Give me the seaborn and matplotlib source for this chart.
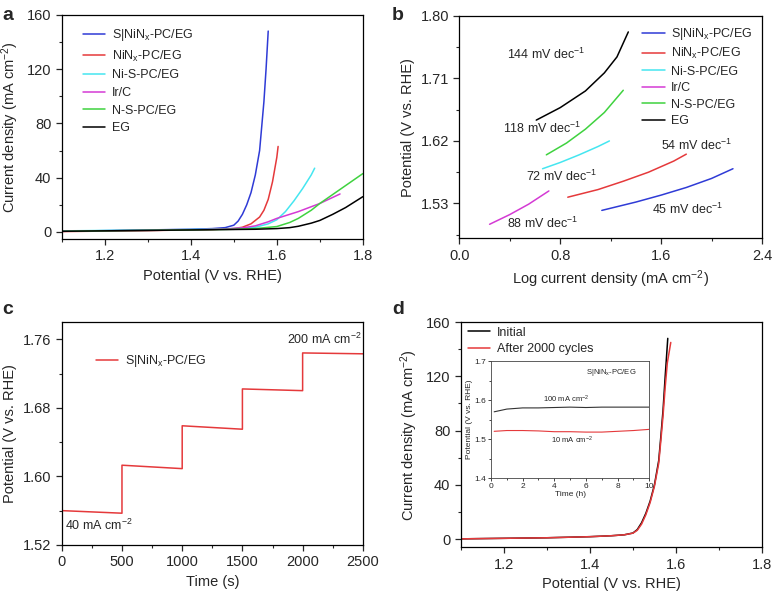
import numpy as np
import pandas as pd
import matplotlib
matplotlib.use("Agg")
import matplotlib.pyplot as plt
from matplotlib.ticker import MultipleLocator
import seaborn as sns

# ---- Panel a: LSV curves
lsv_names = ["S|NiN$_x$-PC/EG", "NiN$_x$-PC/EG", "Ni-S-PC/EG", "Ir/C", "N-S-PC/EG", "EG"]
lsv_colors = ["#2f3bd6", "#e5393b", "#45e6f0", "#d43ad4", "#3fd23f", "#000000"]

sni_v = [1.10, 1.20, 1.30, 1.40, 1.45, 1.48, 1.50, 1.51, 1.52, 1.53, 1.54, 1.55, 1.56, 1.565, 1.57, 1.575, 1.58]
sni_j = [0.5, 1.0, 1.5, 2.0, 2.5, 3.2, 5, 8, 13, 20, 29, 42, 60, 78, 96, 120, 148]
nin_v = [1.10, 1.30, 1.45, 1.50, 1.52, 1.54, 1.56, 1.57, 1.58, 1.59, 1.60, 1.603]
nin_j = [0.3, 1.0, 1.8, 2.5, 3.5, 6, 11, 16, 24, 37, 55, 63]
nis_v = [1.10, 1.40, 1.50, 1.55, 1.58, 1.60, 1.62, 1.64, 1.66, 1.68, 1.688]
nis_j = [0.8, 1.8, 2.5, 3.5, 6, 9, 15, 23, 32, 42, 47]
irc_v = [1.10, 1.40, 1.48, 1.52, 1.55, 1.58, 1.60, 1.65, 1.70, 1.747]
irc_j = [0.5, 1.5, 2.2, 3, 4.5, 7.5, 10, 15, 21, 28]
nsp_v = [1.10, 1.40, 1.50, 1.55, 1.60, 1.63, 1.65, 1.68, 1.70, 1.75, 1.80]
nsp_j = [0.5, 1.5, 2, 2.5, 4, 7, 10, 16, 21, 32, 43]
eg_v = [1.10, 1.40, 1.55, 1.60, 1.63, 1.65, 1.68, 1.70, 1.73, 1.76, 1.80]
eg_j = [0.5, 1.5, 2, 2.5, 3.2, 4.2, 6.5, 8.5, 13, 18, 26]

# ---- Panel b: Tafel plots
sni_logj = [1.13, 1.4, 1.6, 1.8, 2.0, 2.17]
sni_e = [1.520, 1.532, 1.542, 1.553, 1.566, 1.580]
nin_logj = [0.86, 1.1, 1.3, 1.5, 1.7, 1.80]
nin_e = [1.539, 1.550, 1.562, 1.575, 1.591, 1.601]
nis_logj = [0.66, 0.8, 0.95, 1.1, 1.19]
nis_e = [1.580, 1.589, 1.600, 1.612, 1.620]
irc_logj = [0.24, 0.4, 0.55, 0.71]
irc_e = [1.500, 1.514, 1.529, 1.548]
nsp_logj = [0.69, 0.85, 1.0, 1.15, 1.30]
nsp_e = [1.600, 1.617, 1.637, 1.661, 1.693]
eg_logj = [0.61, 0.8, 1.0, 1.15, 1.25, 1.34]
eg_e = [1.650, 1.668, 1.692, 1.718, 1.741, 1.777]
tafel_labels = ["144 mV dec$^{-1}$", "118 mV dec$^{-1}$", "72 mV dec$^{-1}$",
                "88 mV dec$^{-1}$", "54 mV dec$^{-1}$", "45 mV dec$^{-1}$"]
tafel_x = [0.375, 0.35, 0.53, 0.38, 1.60, 1.53]
tafel_y = [1.744, 1.638, 1.569, 1.501, 1.614, 1.522]

# ---- Panel c: multi-step chronopotentiometry
step_time = [0, 500, 500, 1000, 1000, 1500, 1500, 2000, 2000, 2500]
step_pot = [1.560, 1.557, 1.613, 1.609, 1.659, 1.655, 1.702, 1.700, 1.744, 1.743]

# ---- Panel d: stability
init_v = [1.10, 1.20, 1.30, 1.40, 1.45, 1.48, 1.50, 1.51, 1.52, 1.53, 1.54, 1.55, 1.56, 1.565, 1.57, 1.575, 1.581]
init_j = [0.2, 0.6, 1.0, 1.8, 2.5, 3.2, 4.5, 7, 12, 19, 28, 40, 58, 76, 95, 120, 148]
after_v = [1.10, 1.20, 1.30, 1.40, 1.45, 1.48, 1.50, 1.51, 1.52, 1.53, 1.54, 1.55, 1.56, 1.565, 1.57, 1.575, 1.58, 1.588]
after_j = [0.2, 0.6, 1.0, 1.8, 2.5, 3.2, 4.4, 6.5, 11, 18, 27, 39, 56, 73, 91, 112, 130, 145]
inset_t = [0.2, 1, 2, 3, 4, 5, 6, 7, 8, 9, 10]
inset_100 = [1.570, 1.577, 1.580, 1.580, 1.581, 1.582, 1.581, 1.582, 1.582, 1.582, 1.582]
inset_10 = [1.520, 1.522, 1.522, 1.521, 1.519, 1.519, 1.518, 1.518, 1.520, 1.522, 1.525]

sns.set_style("ticks")
plt.rcParams['font.family'] = ['Liberation Sans', 'DejaVu Sans']
plt.rcParams['mathtext.fontset'] = 'custom'
plt.rcParams['mathtext.rm'] = 'Liberation Sans'
plt.rcParams['mathtext.it'] = 'Liberation Sans'
plt.rcParams['mathtext.bf'] = 'Liberation Sans:bold'
plt.rcParams['font.size'] = 10
plt.rcParams['axes.linewidth'] = 0.9
plt.rcParams['xtick.direction'] = 'out'
plt.rcParams['ytick.direction'] = 'out'

fig = plt.figure(figsize=(7.72, 5.91), dpi=100)
ax_a = fig.add_axes([0.080, 0.596, 0.390, 0.379])
ax_b = fig.add_axes([0.595, 0.597, 0.392, 0.376])
ax_c = fig.add_axes([0.080, 0.078, 0.390, 0.377])
ax_d = fig.add_axes([0.597, 0.074, 0.390, 0.381])
ax_in = fig.add_axes([0.636, 0.191, 0.205, 0.198])

LABEL_FS = 10.5
TICK_FS = 10.5
LEG_FS = 9
NOTE_FS = 9


def style_axis(ax, fs=TICK_FS, maj=4, mnr=2.5):
    for s in ax.spines.values():
        s.set_visible(True)
        s.set_color('black')
    ax.tick_params(which='major', length=maj, width=0.9, labelsize=fs, top=False, right=False)
    ax.tick_params(which='minor', length=mnr, width=0.8, top=False, right=False)


def place_legend(ax, x, y, fs=LEG_FS, spacing=0.45, loc='upper left'):
    ax.legend(loc=loc, bbox_to_anchor=(x, y), frameon=False, fontsize=fs,
              handlelength=1.8, handletextpad=0.5, labelspacing=spacing,
              borderaxespad=0, borderpad=0)


# panel a
lsv_v = [sni_v, nin_v, nis_v, irc_v, nsp_v, eg_v]
lsv_j = [sni_j, nin_j, nis_j, irc_j, nsp_j, eg_j]
for v, j, name, c in zip(lsv_v, lsv_j, lsv_names, lsv_colors):
    sns.lineplot(x=v, y=j, ax=ax_a, color=c, label=name, lw=1.1, estimator=None, sort=False)
ax_a.set_xlim(1.1, 1.8)
ax_a.set_ylim(-5, 160)
ax_a.xaxis.set_major_locator(MultipleLocator(0.2))
ax_a.xaxis.set_minor_locator(MultipleLocator(0.1))
ax_a.yaxis.set_major_locator(MultipleLocator(40))
ax_a.yaxis.set_minor_locator(MultipleLocator(20))
ax_a.set_xlabel("Potential (V vs. RHE)", fontsize=LABEL_FS)
ax_a.set_ylabel("Current density (mA cm$^{-2}$)", fontsize=LABEL_FS)
place_legend(ax_a, 0.07, 0.945)
style_axis(ax_a)

# panel b
tafel_x_data = [sni_logj, nin_logj, nis_logj, irc_logj, nsp_logj, eg_logj]
tafel_y_data = [sni_e, nin_e, nis_e, irc_e, nsp_e, eg_e]
for x, y, name, c in zip(tafel_x_data, tafel_y_data, lsv_names, lsv_colors):
    sns.lineplot(x=x, y=y, ax=ax_b, color=c, label=name, lw=1.1, estimator=None, sort=False)
for lbl, tx, ty in zip(tafel_labels, tafel_x, tafel_y):
    ax_b.text(tx, ty, lbl, fontsize=NOTE_FS, ha='left', va='center')
ax_b.set_xlim(0, 2.4)
ax_b.set_ylim(1.48, 1.80)
ax_b.xaxis.set_major_locator(MultipleLocator(0.8))
ax_b.xaxis.set_minor_locator(MultipleLocator(0.4))
ax_b.set_yticks([1.53, 1.62, 1.71, 1.80])
ax_b.set_yticks([1.485, 1.575, 1.665, 1.755], minor=True)
ax_b.set_yticklabels(["1.53", "1.62", "1.71", "1.80"])
ax_b.set_xlabel("Log current density (mA cm$^{-2}$)", fontsize=LABEL_FS)
ax_b.set_ylabel("Potential (V vs. RHE)", fontsize=LABEL_FS)
place_legend(ax_b, 0.604, 0.955, spacing=0.35)
style_axis(ax_b)

# panel c
sns.lineplot(x=step_time, y=step_pot, ax=ax_c, color="#e5393b", label="S|NiN$_x$-PC/EG",
             lw=1.1, estimator=None, sort=False)
ax_c.text(30, 1.543, "40 mA cm$^{-2}$", fontsize=NOTE_FS, ha='left', va='center')
ax_c.text(1870, 1.760, "200 mA cm$^{-2}$", fontsize=NOTE_FS, ha='left', va='center')
ax_c.set_xlim(0, 2500)
ax_c.set_ylim(1.52, 1.78)
ax_c.xaxis.set_major_locator(MultipleLocator(500))
ax_c.xaxis.set_minor_locator(MultipleLocator(250))
ax_c.set_yticks([1.52, 1.60, 1.68, 1.76])
ax_c.yaxis.set_minor_locator(MultipleLocator(0.04))
ax_c.set_xlabel("Time (s)", fontsize=LABEL_FS)
ax_c.set_ylabel("Potential (V vs. RHE)", fontsize=LABEL_FS)
place_legend(ax_c, 0.113, 0.86)
style_axis(ax_c)

# panel d
sns.lineplot(x=init_v, y=init_j, ax=ax_d, color="black", label="Initial", lw=1.1,
             estimator=None, sort=False)
sns.lineplot(x=after_v, y=after_j, ax=ax_d, color="#e5393b", label="After 2000 cycles", lw=1.1,
             estimator=None, sort=False)
ax_d.set_xlim(1.1, 1.8)
ax_d.set_ylim(-6, 160)
ax_d.xaxis.set_major_locator(MultipleLocator(0.2))
ax_d.xaxis.set_minor_locator(MultipleLocator(0.1))
ax_d.yaxis.set_major_locator(MultipleLocator(40))
ax_d.yaxis.set_minor_locator(MultipleLocator(20))
ax_d.set_xlabel("Potential (V vs. RHE)", fontsize=LABEL_FS)
ax_d.set_ylabel("Current density (mA cm$^{-2}$)", fontsize=LABEL_FS)
place_legend(ax_d, 0.023, 0.98, fs=9, spacing=0.35)
style_axis(ax_d)

# inset
sns.lineplot(x=inset_t, y=inset_100, ax=ax_in, color="#333333", lw=0.8, estimator=None, sort=False)
sns.lineplot(x=inset_t, y=inset_10, ax=ax_in, color="#e5393b", lw=0.8, estimator=None, sort=False)
ax_in.text(6.0, 1.670, "S|NiN$_x$-PC/EG", fontsize=5.5, ha='left', va='center')
ax_in.text(3.3, 1.601, "100 mA cm$^{-2}$", fontsize=5.5, ha='left', va='center')
ax_in.text(3.8, 1.498, "10 mA cm$^{-2}$", fontsize=5.5, ha='left', va='center')
ax_in.set_xlim(0, 10)
ax_in.set_ylim(1.4, 1.7)
ax_in.xaxis.set_major_locator(MultipleLocator(2))
ax_in.xaxis.set_minor_locator(MultipleLocator(1))
ax_in.yaxis.set_major_locator(MultipleLocator(0.1))
ax_in.yaxis.set_minor_locator(MultipleLocator(0.05))
ax_in.set_xlabel("Time (h)", fontsize=6, labelpad=1)
ax_in.set_ylabel("Potential (V vs. RHE)", fontsize=6, labelpad=1)
style_axis(ax_in, fs=6, maj=2, mnr=1.2)
for s in ax_in.spines.values():
    s.set_linewidth(0.6)
    s.set_color('#444444')
ax_in.tick_params(which='both', pad=1.5, width=0.6)

# panel letters
for lbl, (px, py) in zip("abcd", [(0.003, 0.988), (0.508, 0.988), (0.003, 0.49), (0.508, 0.49)]):
    fig.text(px, py, lbl, fontsize=14, fontweight='bold', ha='left', va='top')

plt.savefig("out.png", dpi=100)
plt.close()
